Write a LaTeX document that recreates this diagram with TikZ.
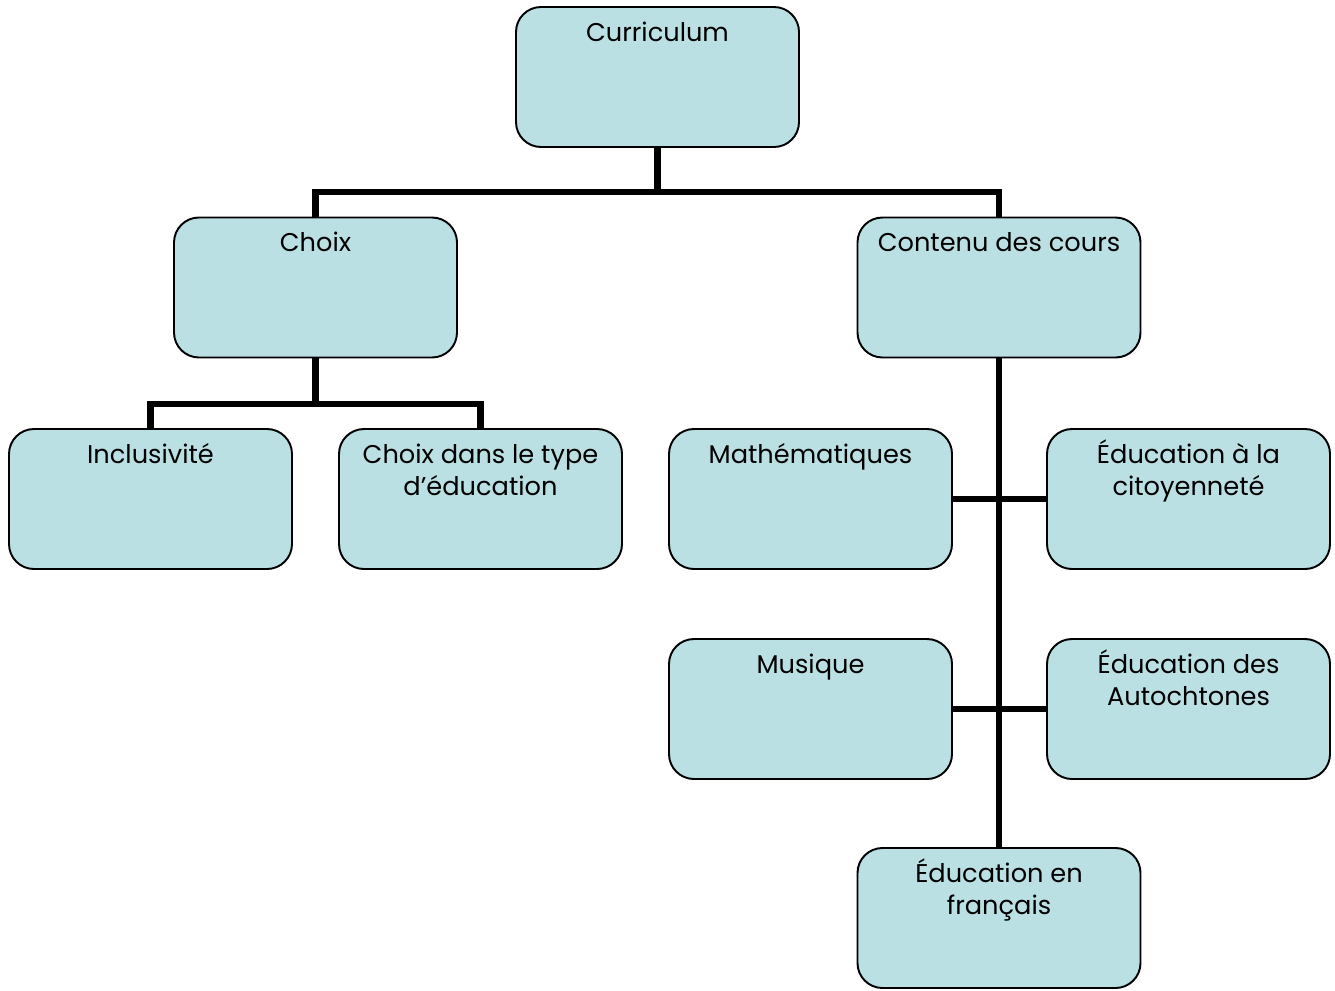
\documentclass[tikz,border=0pt]{standalone}
\usepackage{fontspec}
\setmainfont{Poppins}
\usetikzlibrary{positioning}

\definecolor{boxfill}{RGB}{186,224,227}

\begin{document}
\begin{tikzpicture}[
	box/.style = {draw, line width = 1.1pt, fill = boxfill, rounded corners = 0.5cm, minimum width = 5.66cm, minimum height = 2.8cm},
	tx/.style = {anchor = base, align = center, inner sep = 0, font = \fontsize{14.6}{18.5}\selectfont},
	two lines/.style = {yshift = -18.5pt},
	link/.style = {line width = 3.6pt}
]

\useasboundingbox (0, 0) rectangle (26.7, -19.8);

% The boxes

\node [box] (cur) at (13.15, -1.54) {};
\node [box] (choix) at (6.31, -5.75) {};
\node [box] (contenu) at (19.98, -5.75) {};
\node [box] (incl) at (3.01, -9.98) {};
\node [box] (type) at (9.61, -9.98) {};
\node [box] (math) at (16.21, -9.98) {};
\node [box] (citoy) at (23.77, -9.98) {};
\node [box] (musique) at (16.21, -14.18) {};
\node [box] (autoch) at (23.77, -14.18) {};
\node [box] (fr) at (19.98, -18.36) {};

% The texts (the base of a two-line text is its last line)

\node [tx] (cur-t) at ([yshift = -0.7cm] cur.north) {Curriculum};
\node [tx] (choix-t) at ([yshift = -0.7cm] choix.north) {Choix};
\node [tx] (contenu-t) at ([yshift = -0.7cm] contenu.north) {Contenu des cours};
\node [tx] (incl-t) at ([yshift = -0.7cm] incl.north) {Inclusivité};
\node [tx, two lines] (type-t) at ([yshift = -0.7cm] type.north) {Choix dans le type\\d’éducation};
\node [tx] (math-t) at ([yshift = -0.7cm] math.north) {Mathématiques};
\node [tx, two lines] (citoy-t) at ([yshift = -0.7cm] citoy.north) {Éducation à la\\citoyenneté};
\node [tx] (musique-t) at ([yshift = -0.7cm] musique.north) {Musique};
\node [tx, two lines] (autoch-t) at ([yshift = -0.7cm] autoch.north) {Éducation des\\Autochtones};
\node [tx, two lines] (fr-t) at ([yshift = -0.7cm] fr.north) {Éducation en\\français};

% The connectors

\coordinate (bus-top) at (13.15, -3.84);
\coordinate (bus-choix) at (6.31, -8.08);

\draw [link] (cur.south) -- (bus-top);
\draw [link] (choix.north) |- (bus-top) -| (contenu.north);
\draw [link] (choix.south) -- (bus-choix);
\draw [link] (incl.north) |- (bus-choix) -| (type.north);
\draw [link] (contenu.south) -- (fr.north);
\draw [link] (math.east) -- (citoy.west);
\draw [link] (musique.east) -- (autoch.west);

\end{tikzpicture}
\end{document}
